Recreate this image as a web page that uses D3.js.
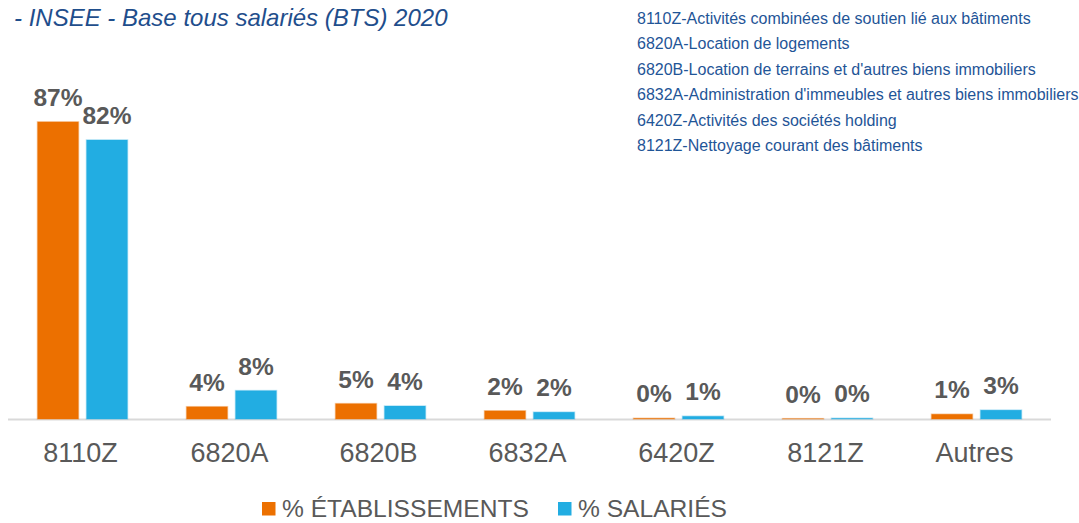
<!DOCTYPE html>
<html>
<head>
<meta charset="utf-8">
<script src="https://cdn.jsdelivr.net/npm/d3@7"></script>
<style>
  body { margin: 0; background: #fff; }
  text { font-family: "Liberation Sans", Arial, sans-serif; }
</style>
</head>
<body>
<div id="chart"></div>
<script>
// chart data
var categories = ["8110Z", "6820A", "6820B", "6832A", "6420Z", "8121Z", "Autres"];
var etablissements = [86.9, 3.6, 4.5, 2.4, 0.2, 0.1, 1.4];
var salaries = [81.6, 8.3, 3.8, 2.0, 0.8, 0.2, 2.6];
var seriesNames = ["% ÉTABLISSEMENTS", "% SALARIÉS"];
var titleText = "- INSEE - Base tous salariés (BTS) 2020";
var codeNotes = [
  "8110Z-Activités combinées de soutien lié aux bâtiments",
  "6820A-Location de logements",
  "6820B-Location de terrains et d'autres biens immobiliers",
  "6832A-Administration d'immeubles et autres biens immobiliers",
  "6420Z-Activités des sociétés holding",
  "8121Z-Nettoyage courant des bâtiments"
];

var svgWidth = 1079, svgHeight = 523;
var colors = ["#EC7000", "#22ADE2"];
var grey = "#595959";

var svg = d3.select("#chart").append("svg")
  .attr("width", svgWidth)
  .attr("height", svgHeight);

// title top left
svg.append("text")
  .attr("x", 14)
  .attr("y", 26)
  .attr("font-size", "24px")
  .attr("font-style", "italic")
  .attr("fill", "#1F4E8C")
  .text(titleText);

// list of NAF codes top right
svg.append("g").selectAll("text")
  .data(codeNotes)
  .enter()
  .append("text")
  .attr("x", 637)
  .attr("y", (d, i) => 24 + i * 25.4)
  .attr("font-size", "16px")
  .attr("fill", "#1F5597")
  .text(d => d);

// scales
var x = d3.scaleBand()
  .domain(categories)
  .range([8, 1051]);

var y = d3.scaleLinear()
  .domain([0, 87])
  .range([419, 121.5]);

var barW = 41, gap = 8;

// baseline
svg.append("line")
  .attr("x1", x.range()[0])
  .attr("x2", x.range()[1])
  .attr("y1", y(0) + 0.5)
  .attr("y2", y(0) + 0.5)
  .attr("stroke", "#D9D9D9")
  .attr("stroke-width", 2);

var series = [etablissements, salaries];

series.forEach(function(vals, s) {
  var g = svg.append("g");
  var xOff = s === 0 ? -(gap / 2 + barW) : gap / 2;
  g.selectAll("rect")
    .data(vals)
    .enter()
    .append("rect")
    .attr("x", (d, i) => x(categories[i]) + x.bandwidth() / 2 + xOff)
    .attr("y", d => y(d))
    .attr("width", barW)
    .attr("height", d => y(0) - y(d))
    .attr("fill", colors[s])
    .attr("stroke", colors[s])
    .attr("stroke-opacity", 0.35)
    .attr("stroke-width", 1.5);

  // value labels
  g.selectAll("text")
    .data(vals)
    .enter()
    .append("text")
    .attr("x", (d, i) => x(categories[i]) + x.bandwidth() / 2 + xOff + barW / 2)
    .attr("y", d => y(d) - 16)
    .attr("text-anchor", "middle")
    .attr("font-size", "24.5px")
    .attr("font-weight", "bold")
    .attr("fill", grey)
    .text(d => Math.round(d) + "%");
});

// category axis labels
var xAxis = d3.axisBottom(x).tickSize(0).tickPadding(0);
var axisG = svg.append("g")
  .call(xAxis);
axisG.select(".domain").remove();
axisG.selectAll("text")
  .attr("x", -2)
  .attr("y", 462)
  .attr("dy", 0)
  .attr("font-size", "27px")
  .attr("fill", grey);

// legend (kept just inside the bottom edge)
var legendX = [262, 558];
var legend = svg.append("g");
seriesNames.forEach(function(name, s) {
  legend.append("rect")
    .attr("x", legendX[s])
    .attr("y", 502)
    .attr("width", 13.5)
    .attr("height", 13.5)
    .attr("fill", colors[s]);
  legend.append("text")
    .attr("x", legendX[s] + 20)
    .attr("y", 517)
    .attr("font-size", "24.6px")
    .attr("fill", grey)
    .text(name);
});
</script>
</body>
</html>
